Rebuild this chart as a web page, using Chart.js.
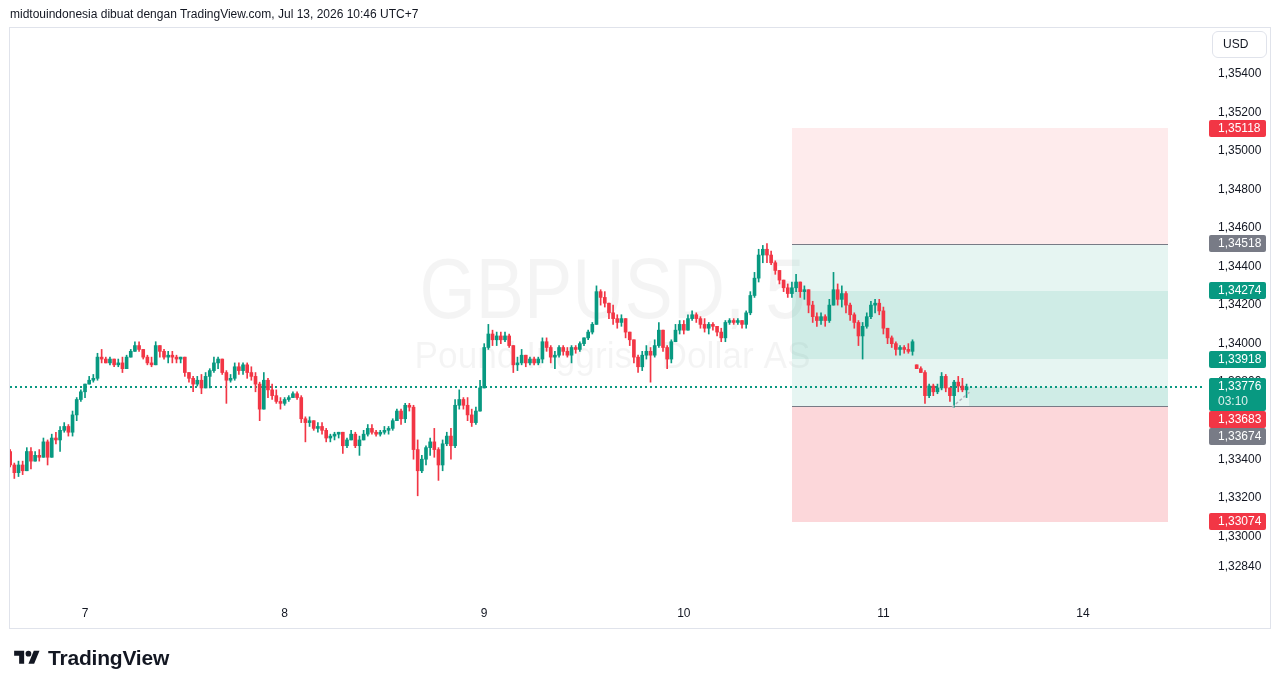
<!DOCTYPE html>
<html><head><meta charset="utf-8">
<script src="https://cdn.jsdelivr.net/npm/chart.js@4.4.1/dist/chart.umd.min.js"></script>
<style>
html,body{margin:0;padding:0;background:#fff;}
#wrap{position:relative;width:1281px;height:688px;overflow:hidden;font-family:'Liberation Sans',Arial,sans-serif;color:#131722;}
#hdr{position:absolute;left:10px;top:7px;font-size:12px;white-space:nowrap;}
#usd{position:absolute;left:1212px;top:31px;width:53px;height:25px;border:1px solid #E0E3EB;border-radius:6px;font-size:12px;line-height:25px;box-sizing:content-box;padding-left:0;}
#usd span{position:absolute;left:10px;top:0;}
#logo{position:absolute;left:12px;top:646px;height:24px;display:flex;align-items:center;}
#logo span{font-weight:bold;font-size:21px;margin-left:6px;letter-spacing:-0.2px;}
canvas{position:absolute;left:0;top:0;}
</style></head>
<body>
<div id="wrap">
<canvas id="c" width="1281" height="688"></canvas>
<div id="hdr">midtouindonesia dibuat dengan TradingView.com, Jul 13, 2026 10:46 UTC+7</div>
<div id="usd"><span>USD</span></div>
<div id="logo"><svg width="30" height="20" viewBox="0 0 36 28"><path d="M14 22H7V11H0V4h14v18z" fill="#131722"/><circle cx="20" cy="8" r="4" fill="#131722"/><path d="M28 22h-8l7.5-18h8L28 22z" fill="#131722"/></svg><span>TradingView</span></div>
</div>
<script>
// ---- data (GBPUSD, 30-min candles) ----
const firstBarHour = 15;      // Jul 6, 15:00 (UTC+7), trading-time hours from Jul 6 00:00
const barHours = 0.5;
const opens = [1.3344,1.3337,1.3333,1.3337,1.3334,1.3344,1.3339,1.3342,1.3341,1.3349,
1.3341,1.3351,1.3350,1.3355,1.3357,1.3354,1.3363,1.3371,1.3375,1.3379,
1.3381,1.3382,1.3393,1.3392,1.3390,1.3392,1.3389,1.3390,1.3387,1.3393,
1.3396,1.3399,1.3397,1.3393,1.3390,1.3389,1.3399,1.3396,1.3393,1.3394,
1.3393,1.3392,1.3393,1.3385,1.3382,1.3379,1.3381,1.3377,1.3383,1.3386,
1.3390,1.3392,1.3385,1.3381,1.3382,1.3388,1.3386,1.3389,1.3385,1.3383,
1.3379,1.3366,1.3381,1.3376,1.3373,1.3370,1.3369,1.3371,1.3372,1.3374,
1.3372,1.3361,1.3359,1.3360,1.3356,1.3357,1.3355,1.3351,1.3352,1.3353,
1.3354,1.3347,1.3350,1.3353,1.3347,1.3350,1.3353,1.3356,1.3354,1.3353,
1.3354,1.3355,1.3356,1.3360,1.3365,1.3361,1.3368,1.3367,1.3345,1.3334,
1.3340,1.3346,1.3349,1.3345,1.3337,1.3348,1.3352,1.3347,1.3368,1.3371,
1.3368,1.3363,1.3359,1.3365,1.3377,1.3398,1.3405,1.3402,1.3404,1.3402,
1.3404,1.3399,1.3389,1.3390,1.3394,1.3390,1.3392,1.3390,1.3392,1.3401,
1.3398,1.3393,1.3394,1.3398,1.3396,1.3394,1.3398,1.3397,1.3400,1.3403,
1.3406,1.3410,1.3427,1.3424,1.3421,1.3416,1.3413,1.3411,1.3413,1.3406,
1.3402,1.3393,1.3388,1.3394,1.3396,1.3394,1.3399,1.3407,1.3398,1.3392,
1.3401,1.3407,1.3410,1.3407,1.3413,1.3415,1.3413,1.3410,1.3408,1.3410,
1.3409,1.3406,1.3403,1.3411,1.3412,1.3411,1.3412,1.3410,1.3416,1.3425,
1.3434,1.3446,1.3449,1.3446,1.3442,1.3438,1.3433,1.3429,1.3426,1.3429,
1.3432,1.3427,1.3428,1.3420,1.3414,1.3412,1.3414,1.3412,1.3420,1.3428,
1.3423,1.3426,1.3420,1.3415,1.3411,1.3404,1.3409,1.3414,1.3420,1.3421,
1.3417,1.3408,1.3403,1.3400,1.3397,1.3398,1.3397,1.3396,1.3389,1.3387,
1.3385,1.3373,1.3378,1.3375,1.3377,1.3383,1.3377,1.3373,1.3380,1.3378,1.3376];
const highs = [1.3345,1.3338,1.3339,1.3339,1.3346,1.3346,1.3344,1.3345,1.3351,1.3350,
1.3353,1.3354,1.3357,1.3359,1.3358,1.3365,1.3372,1.3376,1.3379,1.3383,
1.3384,1.3395,1.3397,1.3393,1.3393,1.3392,1.3392,1.3393,1.3394,1.3397,
1.3401,1.3401,1.3397,1.3394,1.3393,1.3401,1.3399,1.3397,1.3396,1.3396,
1.3394,1.3393,1.3393,1.3385,1.3383,1.3383,1.3384,1.3385,1.3387,1.3393,
1.3393,1.3392,1.3386,1.3384,1.3390,1.3390,1.3390,1.3390,1.3388,1.3385,
1.3380,1.3385,1.3382,1.3379,1.3376,1.3372,1.3372,1.3373,1.3375,1.3375,
1.3373,1.3362,1.3362,1.3360,1.3359,1.3359,1.3356,1.3353,1.3354,1.3354,
1.3354,1.3351,1.3355,1.3354,1.3352,1.3355,1.3358,1.3358,1.3355,1.3355,
1.3357,1.3357,1.3361,1.3366,1.3366,1.3369,1.3369,1.3368,1.3350,1.3342,
1.3347,1.3351,1.3356,1.3346,1.3350,1.3354,1.3356,1.3371,1.3376,1.3372,
1.3372,1.3366,1.3367,1.3381,1.3400,1.3410,1.3407,1.3406,1.3406,1.3406,
1.3405,1.3399,1.3393,1.3397,1.3394,1.3393,1.3393,1.3393,1.3403,1.3403,
1.3399,1.3396,1.3399,1.3399,1.3398,1.3399,1.3399,1.3401,1.3403,1.3407,
1.3411,1.3430,1.3428,1.3427,1.3421,1.3420,1.3415,1.3415,1.3413,1.3406,
1.3402,1.3394,1.3396,1.3399,1.3398,1.3402,1.3411,1.3407,1.3399,1.3402,
1.3410,1.3412,1.3412,1.3415,1.3417,1.3416,1.3414,1.3413,1.3411,1.3411,
1.3409,1.3408,1.3412,1.3413,1.3413,1.3413,1.3412,1.3417,1.3427,1.3437,
1.3449,1.3451,1.3452,1.3448,1.3443,1.3438,1.3433,1.3431,1.3432,1.3436,
1.3432,1.3430,1.3428,1.3422,1.3416,1.3416,1.3415,1.3423,1.3437,1.3431,
1.3430,1.3427,1.3421,1.3416,1.3412,1.3411,1.3416,1.3422,1.3423,1.3423,
1.3419,1.3408,1.3404,1.3401,1.3399,1.3399,1.3400,1.3402,1.3389,1.3388,
1.3386,1.3379,1.3379,1.3379,1.3385,1.3384,1.3377,1.3381,1.3383,1.3382,1.3379];
const lows = [1.3336,1.3330,1.3331,1.3332,1.3334,1.3335,1.3339,1.3339,1.3341,1.3337,
1.3341,1.3348,1.3344,1.3354,1.3352,1.3352,1.3360,1.3370,1.3372,1.3379,
1.3380,1.3381,1.3390,1.3390,1.3389,1.3388,1.3388,1.3385,1.3387,1.3393,
1.3396,1.3396,1.3392,1.3389,1.3388,1.3389,1.3393,1.3392,1.3390,1.3390,
1.3390,1.3390,1.3383,1.3380,1.3375,1.3378,1.3374,1.3377,1.3377,1.3385,
1.3387,1.3384,1.3369,1.3380,1.3381,1.3384,1.3384,1.3382,1.3381,1.3375,
1.3360,1.3366,1.3372,1.3371,1.3369,1.3366,1.3368,1.3370,1.3372,1.3371,
1.3359,1.3349,1.3357,1.3355,1.3354,1.3353,1.3349,1.3349,1.3350,1.3351,
1.3343,1.3346,1.3350,1.3346,1.3342,1.3350,1.3352,1.3353,1.3352,1.3352,
1.3353,1.3353,1.3355,1.3360,1.3358,1.3359,1.3365,1.3340,1.3321,1.3333,
1.3337,1.3342,1.3341,1.3329,1.3334,1.3347,1.3340,1.3346,1.3366,1.3366,
1.3360,1.3357,1.3358,1.3365,1.3377,1.3397,1.3399,1.3399,1.3400,1.3401,
1.3398,1.3385,1.3386,1.3389,1.3388,1.3389,1.3389,1.3389,1.3390,1.3396,
1.3390,1.3387,1.3393,1.3394,1.3393,1.3390,1.3395,1.3396,1.3399,1.3402,
1.3405,1.3410,1.3420,1.3419,1.3413,1.3410,1.3408,1.3409,1.3403,1.3399,
1.3390,1.3385,1.3386,1.3392,1.3380,1.3393,1.3398,1.3396,1.3387,1.3390,
1.3401,1.3405,1.3405,1.3407,1.3412,1.3411,1.3408,1.3406,1.3405,1.3407,
1.3404,1.3401,1.3401,1.3410,1.3410,1.3410,1.3408,1.3408,1.3415,1.3424,
1.3432,1.3442,1.3442,1.3441,1.3436,1.3431,1.3427,1.3424,1.3424,1.3427,
1.3424,1.3423,1.3416,1.3411,1.3409,1.3410,1.3409,1.3411,1.3420,1.3420,
1.3419,1.3416,1.3412,1.3408,1.3399,1.3392,1.3408,1.3413,1.3416,1.3415,
1.3405,1.3400,1.3398,1.3394,1.3394,1.3395,1.3395,1.3394,1.3387,1.3385,
1.3369,1.3372,1.3373,1.3374,1.3376,1.3375,1.3370,1.3367,1.3375,1.3375,1.3372];
const closes = [1.3337,1.3333,1.3337,1.3334,1.3344,1.3339,1.3342,1.3341,1.3349,1.3341,
1.3351,1.3350,1.3355,1.3357,1.3354,1.3363,1.3371,1.3375,1.3379,1.3381,
1.3382,1.3393,1.3392,1.3390,1.3392,1.3389,1.3390,1.3387,1.3393,1.3396,
1.3399,1.3397,1.3393,1.3390,1.3389,1.3399,1.3396,1.3393,1.3394,1.3393,
1.3392,1.3393,1.3385,1.3382,1.3379,1.3381,1.3377,1.3383,1.3386,1.3390,
1.3392,1.3385,1.3381,1.3382,1.3388,1.3386,1.3389,1.3385,1.3383,1.3379,
1.3366,1.3381,1.3376,1.3373,1.3370,1.3369,1.3371,1.3372,1.3374,1.3372,
1.3361,1.3359,1.3360,1.3356,1.3357,1.3355,1.3351,1.3352,1.3353,1.3354,
1.3347,1.3350,1.3353,1.3347,1.3350,1.3353,1.3356,1.3354,1.3353,1.3354,
1.3355,1.3356,1.3360,1.3365,1.3361,1.3368,1.3367,1.3345,1.3334,1.3340,
1.3346,1.3349,1.3345,1.3337,1.3348,1.3352,1.3347,1.3368,1.3371,1.3368,
1.3363,1.3359,1.3365,1.3377,1.3398,1.3405,1.3402,1.3404,1.3402,1.3404,
1.3399,1.3389,1.3390,1.3394,1.3390,1.3392,1.3390,1.3392,1.3401,1.3398,
1.3393,1.3394,1.3398,1.3396,1.3394,1.3398,1.3397,1.3400,1.3403,1.3406,
1.3410,1.3427,1.3424,1.3421,1.3416,1.3413,1.3411,1.3413,1.3406,1.3402,
1.3393,1.3388,1.3394,1.3396,1.3394,1.3399,1.3407,1.3398,1.3392,1.3401,
1.3407,1.3410,1.3407,1.3413,1.3415,1.3413,1.3410,1.3408,1.3410,1.3409,
1.3406,1.3403,1.3411,1.3412,1.3411,1.3412,1.3410,1.3416,1.3425,1.3434,
1.3446,1.3449,1.3446,1.3442,1.3438,1.3433,1.3429,1.3426,1.3429,1.3432,
1.3427,1.3428,1.3420,1.3414,1.3412,1.3414,1.3412,1.3420,1.3428,1.3423,
1.3426,1.3420,1.3415,1.3411,1.3404,1.3409,1.3414,1.3420,1.3421,1.3417,
1.3408,1.3403,1.3400,1.3397,1.3398,1.3397,1.3396,1.3401,1.3387,1.3385,
1.3373,1.3378,1.3375,1.3377,1.3383,1.3377,1.3373,1.3380,1.3378,1.3376,1.33776];

const dayTickHours = [24, 48, 72, 96, 120, 144];
const dayTickLabels = ['7', '8', '9', '10', '11', '14'];
const priceTicks = [1.354, 1.352, 1.350, 1.348, 1.346, 1.344, 1.342, 1.340, 1.338, 1.336, 1.334, 1.332, 1.330, 1.3284];

const currentPrice = 1.33776;
const countdown = '03:10';
const positionHours = [109.0, 154.2];            // start / end of the position drawing
const zoneLevels = [1.35118, 1.34518, 1.34274, 1.33918, 1.33674, 1.33074];
const axisLabels = [1.35118, 1.34518, 1.34274, 1.33918, 1.33683, 1.33674, 1.33074];
const axisLabelKinds = ['red', 'gray', 'teal', 'teal', 'red', 'gray', 'red'];
const projection = [[128.25, 1.3367], [130.4, 1.3375]];
const watermarkTitle = 'GBPUSD, 5';
const watermarkSub = 'Pound Inggris / Dollar AS';

// ---- styling / layout ----
const UP = '#089981', DOWN = '#F23645', GRAY = '#787B86';
const FONT = "'Liberation Sans', Arial, sans-serif";
const viewHours = [14.98, 158.67];
const viewPrices = [1.32669, 1.35644];

const xs = opens.map((_, i) => firstBarHour + i * barHours);
const colors = opens.map((o, i) => closes[i] >= o ? UP : DOWN);
const wickData = xs.map((x, i) => ({x, y: [lows[i], highs[i]]}));
const bodyData = xs.map((x, i) => ({x, y: [opens[i], closes[i]]}));

function fmt(v) { return v.toFixed(5).replace('.', ','); }

function rr(ctx, x, y, w, h, r) {
  ctx.beginPath();
  ctx.moveTo(x + r, y); ctx.lineTo(x + w - r, y); ctx.quadraticCurveTo(x + w, y, x + w, y + r);
  ctx.lineTo(x + w, y + h - r); ctx.quadraticCurveTo(x + w, y + h, x + w - r, y + h);
  ctx.lineTo(x + r, y + h); ctx.quadraticCurveTo(x, y + h, x, y + h - r);
  ctx.lineTo(x, y + r); ctx.quadraticCurveTo(x, y, x + r, y); ctx.closePath();
}

const overlay = {
  id: 'overlay',
  beforeDatasetsDraw(chart) {
    const {ctx, chartArea: a, scales: {x, y}} = chart;
    ctx.save();
    ctx.beginPath(); ctx.rect(a.left, a.top, a.width, a.height); ctx.clip();
    // watermark
    const cx = (a.left + a.right) / 2 + 5;
    ctx.fillStyle = 'rgba(0,0,0,0.045)';
    ctx.textAlign = 'center'; ctx.textBaseline = 'alphabetic';
    ctx.font = '86px ' + FONT;
    let w = ctx.measureText(watermarkTitle).width;
    ctx.save(); ctx.translate(cx, 318); ctx.scale(386 / w, 1); ctx.fillText(watermarkTitle, 0, 0); ctx.restore();
    ctx.font = '37px ' + FONT;
    w = ctx.measureText(watermarkSub).width;
    ctx.save(); ctx.translate(cx, 368); ctx.scale(396 / w, 1); ctx.fillText(watermarkSub, 0, 0); ctx.restore();

    // position zones
    const x0 = Math.round(x.getPixelForValue(positionHours[0]));
    const x1 = Math.round(x.getPixelForValue(positionHours[1]));
    const Y = p => Math.round(y.getPixelForValue(p));
    const [zTop, zEntryHi, bHi, bLo, zEntryLo, zBot] = zoneLevels;
    ctx.fillStyle = 'rgba(242,54,69,0.10)';
    ctx.fillRect(x0, Y(zTop), x1 - x0, Y(zEntryHi) - Y(zTop));
    ctx.fillStyle = 'rgba(8,153,129,0.10)';
    ctx.fillRect(x0, Y(zEntryHi), x1 - x0, Y(zEntryLo) - Y(zEntryHi));
    ctx.fillStyle = 'rgba(8,153,129,0.10)';
    ctx.fillRect(x0, Y(bHi), x1 - x0, Y(bLo) - Y(bHi));
    ctx.fillStyle = 'rgba(242,54,69,0.20)';
    ctx.fillRect(x0, Y(zEntryLo), x1 - x0, Y(zBot) - Y(zEntryLo));
    // current P&L fill from the last bar
    const xl = Math.round(x.getPixelForValue(xs[xs.length - 1])) + 2;
    ctx.fillStyle = 'rgba(8,153,129,0.10)';
    ctx.fillRect(xl, Y(currentPrice), x1 - xl, Y(zEntryLo) - Y(currentPrice));
    // zone lines
    ctx.strokeStyle = GRAY; ctx.lineWidth = 1;
    [zEntryHi, zEntryLo].forEach(p => {
      ctx.beginPath(); ctx.moveTo(x0, Y(p) + 0.5); ctx.lineTo(x1, Y(p) + 0.5); ctx.stroke();
    });
    // current price dotted line
    ctx.strokeStyle = UP; ctx.lineWidth = 2; ctx.setLineDash([2, 3]);
    ctx.beginPath(); ctx.moveTo(a.left, Y(currentPrice)); ctx.lineTo(a.right, Y(currentPrice)); ctx.stroke();
    ctx.restore();
  },
  afterDatasetsDraw(chart) {
    const {ctx, scales: {x, y}} = chart;
    ctx.save();
    ctx.strokeStyle = '#B2B5BE'; ctx.lineWidth = 1.5; ctx.setLineDash([3, 2]);
    ctx.beginPath();
    ctx.moveTo(x.getPixelForValue(projection[0][0]), y.getPixelForValue(projection[0][1]));
    ctx.lineTo(x.getPixelForValue(projection[1][0]), y.getPixelForValue(projection[1][1]));
    ctx.stroke();
    ctx.restore();
  },
  afterDraw(chart) {
    const {ctx, chartArea: a, scales: {y}} = chart;
    ctx.save();
    // frame
    ctx.strokeStyle = '#E0E3EB'; ctx.lineWidth = 1;
    ctx.strokeRect(9.5, 27.5, 1261, 601);
    // axis badges
    const bg = {red: DOWN, gray: GRAY, teal: UP};
    const items = axisLabels.map((p, i) => ({p, lines: [fmt(p)], color: bg[axisLabelKinds[i]]}));
    items.push({p: currentPrice, lines: [fmt(currentPrice), countdown], color: UP});
    items.sort((m, n) => n.p - m.p);
    let prevBottom = -1e9;
    const bx = a.right + 4, bw = 57;
    ctx.font = '12px ' + FONT; ctx.textBaseline = 'middle'; ctx.textAlign = 'left';
    items.forEach(it => {
      const yc = y.getPixelForValue(it.p);
      const h = it.lines.length === 1 ? 17 : 33;
      let top = Math.round(yc - 8.5);
      if (top < prevBottom) top = prevBottom;
      prevBottom = top + h;
      ctx.fillStyle = it.color;
      rr(ctx, bx, top, bw, h, 2); ctx.fill();
      it.lines.forEach((t, k) => {
        ctx.fillStyle = k === 0 ? '#FFFFFF' : 'rgba(255,255,255,0.85)';
        ctx.fillText(t, a.right + 13, top + 9 + k * 15);
      });
    });
    ctx.restore();
  }
};

new Chart(document.getElementById('c'), {
  type: 'bar',
  data: {
    datasets: [
      {data: wickData, backgroundColor: colors, barThickness: 1, grouped: false, order: 2},
      {data: bodyData, backgroundColor: colors, barThickness: 3, grouped: false, minBarLength: 1, order: 1}
    ]
  },
  options: {
    responsive: false, animation: false,
    layout: {padding: {left: 10, right: 11, top: 27, bottom: 60}},
    plugins: {legend: {display: false}, tooltip: {enabled: false}},
    scales: {
      x: {
        type: 'linear', min: viewHours[0], max: viewHours[1], offset: false, bounds: 'ticks',
        grid: {display: false, drawTicks: false, offset: false}, border: {display: false},
        afterBuildTicks: s => { s.ticks = dayTickHours.map(v => ({value: v})); },
        afterFit: s => { s.height = 28; },
        ticks: {autoSkip: false, maxRotation: 0, padding: 6, color: '#131722', font: {family: FONT, size: 12},
          callback: v => dayTickLabels[dayTickHours.indexOf(v)]}
      },
      y: {
        position: 'right', min: viewPrices[0], max: viewPrices[1],
        grid: {display: false, drawTicks: false}, border: {display: false},
        afterBuildTicks: s => { s.ticks = priceTicks.map(v => ({value: v})); },
        afterFit: s => { s.width = 65; },
        ticks: {autoSkip: false, crossAlign: 'near', padding: 13, color: '#131722', font: {family: FONT, size: 12},
          callback: v => fmt(v)}
      }
    }
  },
  plugins: [overlay]
});
</script>
</body></html>
